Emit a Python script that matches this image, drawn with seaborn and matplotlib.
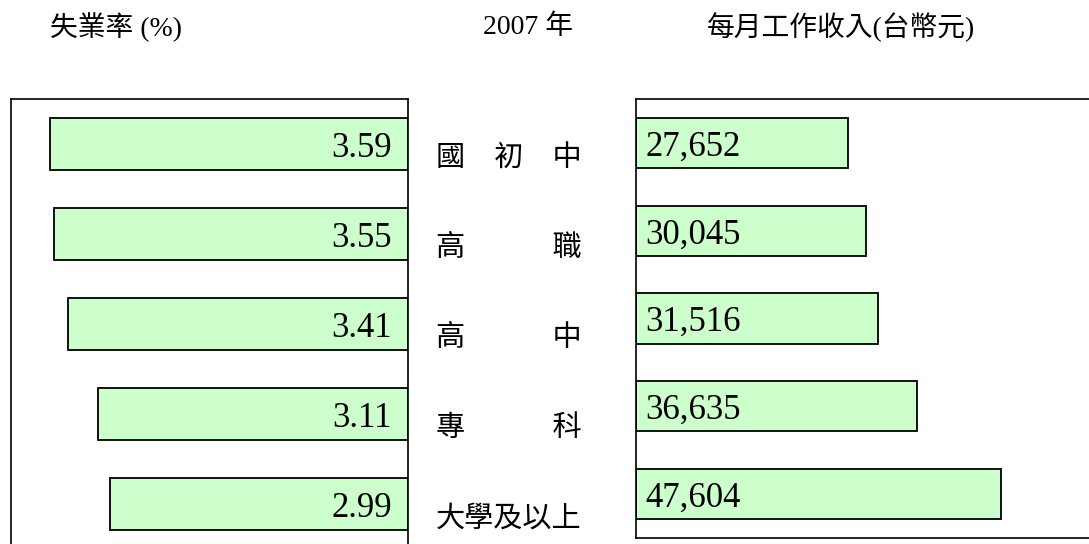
import matplotlib
matplotlib.use("Agg")
import matplotlib.pyplot as plt
import matplotlib.transforms as mtransforms
import seaborn as sns
import pandas as pd

# ---- data ----
categories = ["國　初　中", "高　　　職", "高　　　中", "專　　　科", "大學及以上"]
unemployment = [3.59, 3.55, 3.41, 3.11, 2.99]
income = [27652, 30045, 31516, 36635, 47604]
title_left = "失業率 (%)"
title_mid = "2007 年"
title_right = "每月工作收入(台幣元)"

sns.set_style("white")
plt.rcParams["font.family"] = ["Liberation Serif", "Noto Sans CJK TC", "DejaVu Sans"]
plt.rcParams["text.color"] = "black"

W, H = 1089, 544
fig = plt.figure(figsize=(W / 100, H / 100), dpi=100)

def px_axes(x0, y0, x1, y1):
    return fig.add_axes([x0 / W, 1 - y1 / H, (x1 - x0) / W, (y1 - y0) / H])

df = pd.DataFrame({"cat": categories, "rate": unemployment, "inc": income})

bar_kw = dict(color="#CCFFCC", edgecolor="black", linewidth=1.3, saturation=1)

# left panel: unemployment (bars grow to the left)
axL = px_axes(11, 99, 408, 549)
sns.barplot(data=df, x="rate", y="cat", ax=axL, width=0.58, **bar_kw)
axL.set_xlim(3.98, 0)
axL.set_xlabel("")
axL.set_ylabel("")
axL.set_xticks([])
axL.set_yticks([])
for s in axL.spines.values():
    s.set_visible(True)
    s.set_color("black")
    s.set_linewidth(1.2)
for i, v in enumerate(unemployment):
    axL.annotate(f"{v:.2f}", xy=(0, i), xytext=(-11.5, -3), textcoords="offset points",
                 ha="right", va="center", fontsize=25, family="Liberation Serif",
                 color="black")

# right panel: income
axR = px_axes(636, 99, 1096, 538)
sns.barplot(data=df, x="inc", y="cat", ax=axR, width=0.57, **bar_kw)
axR.set_xlim(0, 60000)
axR.set_xlabel("")
axR.set_ylabel("")
axR.set_xticks([])
axR.set_yticks([])
for s in axR.spines.values():
    s.set_visible(True)
    s.set_color("black")
    s.set_linewidth(1.2)
for i, v in enumerate(income):
    axR.annotate(f"{v:,}", xy=(0, i), xytext=(6.5, -3), textcoords="offset points",
                 ha="left", va="center", fontsize=25, family="Liberation Serif",
                 color="black")

# category labels between the panels
tr = mtransforms.blended_transform_factory(fig.transFigure, axL.transData)
for i, c in enumerate(categories):
    fig.text(436 / W, i + 0.16, c, transform=tr, ha="left", va="center",
             fontsize=21, family=["Noto Sans CJK TC"], color="black")

# titles
fs_t = 20
ty = 1 - 27 / H
fig.text(50 / W, ty, title_left, ha="left", va="center", fontsize=fs_t, color="black")
fig.text(483 / W, ty, title_mid, ha="left", va="center", fontsize=fs_t, color="black")
fig.text(707 / W, ty, title_right, ha="left", va="center", fontsize=fs_t, color="black")

fig.savefig("out.png", dpi=100)
